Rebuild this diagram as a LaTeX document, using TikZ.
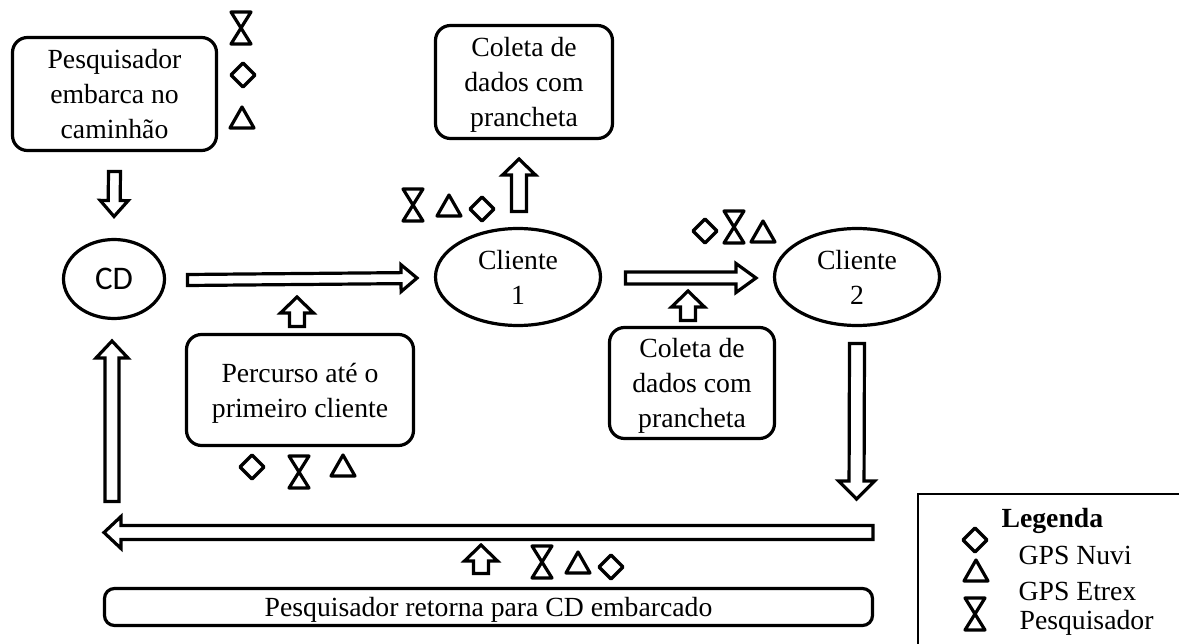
\documentclass[tikz,border=0pt]{standalone}
\usepackage{fontspec}
\setmainfont{Liberation Serif}
\newfontfamily\cdfont{Carlito}
\usetikzlibrary{calc,shapes.geometric}
\tikzset{
    caixa/.style={draw,rounded corners=15pt,align=center,outer sep=0pt,text depth=0pt},
    elipse/.style={draw,ellipse,outer sep=0pt,inner sep=0pt},
    rotulo/.style={inner sep=0pt,anchor=west},
    blockarrow/.style args={#1/#2/#3}{draw,fill=white,to path={
        ($(\tikztostart)!#1!90:(\tikztotarget)$)
        -- ($(\tikztotarget)!#3!(\tikztostart)!#1!90:(\tikztotarget)$)
        -- ($(\tikztotarget)!#3!(\tikztostart)!#2!90:(\tikztotarget)$)
        -- (\tikztotarget)
        -- ($(\tikztotarget)!#3!(\tikztostart)!#2!-90:(\tikztotarget)$)
        -- ($(\tikztotarget)!#3!(\tikztostart)!#1!-90:(\tikztotarget)$)
        -- ($(\tikztostart)!#1!-90:(\tikztotarget)$)
        -- cycle}},
    setalonga/.style={blockarrow=7pt/16pt/17pt},
    setacurta/.style={blockarrow=7.5pt/16.5pt/16pt},
    relogio/.pic={\draw[line join=round] (-10,-16) -- (10,-16) -- (-10,16) -- (10,16) -- cycle;},
    losango/.pic={\draw[line join=round] (0,-12) -- (12,0) -- (0,12) -- (-12,0) -- cycle;},
    triangulo/.pic={\draw[line join=round] (0,-11) -- (12,10) -- (-12,10) -- cycle;}
}
\begin{document}
\begin{tikzpicture}[x=1pt,y=-1pt,line width=3.2pt,
            every node/.style={font=\fontsize{27.7}{35}\selectfont}
            ]
            \useasboundingbox (0,0) rectangle (1179,644);
            \node[caixa,minimum width=204pt,minimum height=113pt] (embarca) at (114.5,94) {Pesquisador\\embarca no\\caminhão};
            \node[caixa,minimum width=177pt,minimum height=113pt] (coleta1) at (524,82) {Coleta de\\dados com\\prancheta};
            \node[caixa,minimum width=165pt,minimum height=111pt] (coleta2) at (692,383) {Coleta de\\dados com\\prancheta};
            \node[caixa,minimum width=227pt,minimum height=111pt] (percurso) at (300,390) {Percurso até o\\primeiro cliente};
            \node[caixa,rounded corners=10pt,minimum width=768pt,minimum height=37pt] (retorno) at (488.5,607) {Pesquisador retorna para CD embarcado};
            \node[elipse,minimum width=101pt,minimum height=79pt,font=\cdfont\fontsize{33}{38}\selectfont] (cd) at (114,279) {CD};
            \node[elipse,align=center,minimum width=165pt,minimum height=97pt] (cliente1) at (518,277) {Cliente\\1};
            \node[elipse,align=center,minimum width=165pt,minimum height=97pt] (cliente2) at (857,277) {Cliente\\2};

            \coordinate (viagem1) at (297,297);
            \coordinate (viagem2) at (688,291);
            \coordinate (volta) at (481,545);
            \coordinate (descida) at (856.5,499);
            \coordinate (inicioVolta) at (873,532.5);
            \coordinate (fimVolta) at (104,532.5);
            \coordinate (subida) at (112,501.5);

            \draw[blockarrow=6pt/14pt/16pt] ([yshift=-21pt]embarca.south) to ([yshift=23pt]cd.north);
            \draw[blockarrow=5.5pt/13.5pt/16pt] ([xshift=23pt,yshift=-1pt]cd.east) to ([xshift=-18.5pt,yshift=-1pt]cliente1.west);
            \draw[blockarrow=6pt/14.5pt/20pt] ([xshift=25pt,yshift=-1pt]cliente1.east) to ([xshift=-18.5pt,yshift=-1pt]cliente2.west);
            \draw[setacurta] ([xshift=1pt,yshift=17pt]cliente1.north) to ([xshift=-5pt,yshift=-20.5pt]coleta1.south);
            \draw[setacurta] ([yshift=8pt]percurso.north -| viagem1) to (viagem1);
            \draw[setacurta] ([yshift=7pt]coleta2.north -| viagem2) to (viagem2);
            \draw[setacurta] ([yshift=15pt]retorno.north -| volta) to (volta);
            \draw[blockarrow=7.5pt/18pt/18pt] ([yshift=-18pt]cliente2.south) to (descida);
            \draw[setalonga] (inicioVolta) to (fimVolta);
            \draw[setalonga] (subida) to ([xshift=-2pt,yshift=-22.5pt]cd.south);

            \pic at (241,28) {relogio};
            \pic at (243,75) {losango};
            \pic at (242,118) {triangulo};
            \pic at (413,205) {relogio};
            \pic at (449,206) {triangulo};
            \pic at (482,209) {losango};
            \pic at (705,231) {losango};
            \pic at (734,227) {relogio};
            \pic at (763,232) {triangulo};
            \pic at (252,467) {losango};
            \pic at (299,472) {relogio};
            \pic at (343,466) {triangulo};
            \pic at (542,562) {relogio};
            \pic at (578,563) {triangulo};
            \pic at (611,567) {losango};

            \draw[line width=2.5pt] (1179,494) -- (918,494) -- (918,644);
            \node[rotulo,font=\bfseries\fontsize{27.7}{34}\selectfont] (legenda) at (1000,521) {Legenda};
            \node[rotulo] (nuvi) at (1017,555) {GPS Nuvi};
            \node[rotulo] (etrex) at (1017,591) {GPS Etrex};
            \node[rotulo] (pesquisador) at (1018,623) {Pesquisador};
            \pic at (975,540) {losango};
            \pic at (976,571) {triangulo};
            \pic at (975,614) {relogio};
        \end{tikzpicture}
\end{document}
